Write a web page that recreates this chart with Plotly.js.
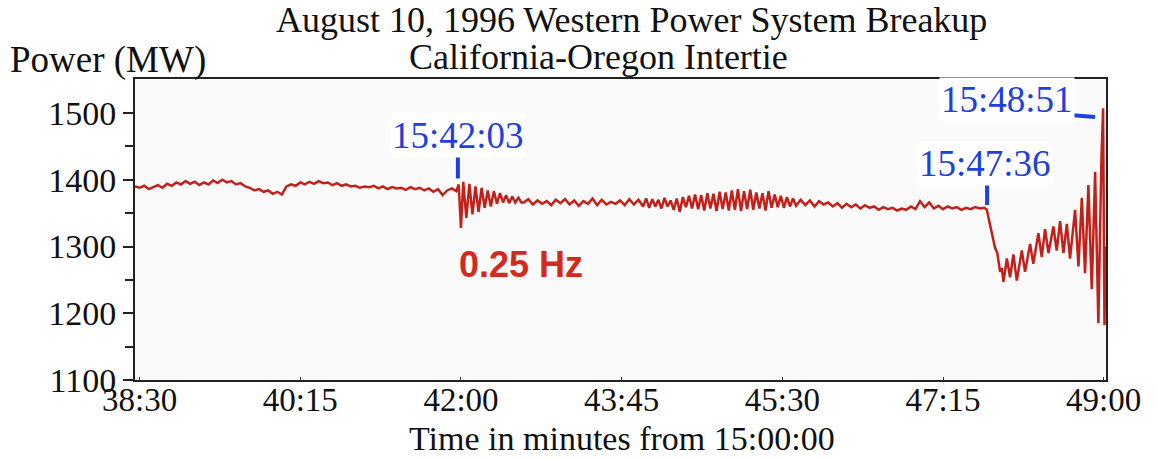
<!DOCTYPE html>
<html>
<head>
<meta charset="utf-8">
<script src="https://cdn.plot.ly/plotly-3.0.1.min.js"></script>
<style>html,body{margin:0;padding:0;background:#fff;}#chart{width:1157px;height:459px;}</style>
</head>
<body>
<div id="chart"></div>
<script>
// Time in seconds from 15:00:00
var timeSec = [
2307,2310,2313,2316,2319,2322,2325,2328,2331,2334,2337,2340,2343,2346,2349,2352,2355,2358,2361,2364,
2367,2370,2373,2376,2379,2382,2385,2388,2391,2394,2397,2400,2403,2406,2409,2412,2415,2418,2421,2424,
2427,2430,2433,2436,2439,2442,2445,2448,2451,2454,2457,2460,2463,2466,2469,2472,2475,2478,2481,2484,
2487,2490,2493,2496,2499,2502,2505,2508,2511,2514,2517,
2518.5,2520,2521.5,2523.5,2525.5,2527.5,2529.5,2531.5,2533.5,2535.5,2537.5,2539.5,2541.5,2543.5,2545.5,
2547.5,2549.5,2551.5,2553.5,2555.5,2557.5,2559.5,
2561,2564,2567,2570,2573,2576,2579,2582,2585,2588,2591,2594,2597,2600,2603,2606,2609,2612,2615,2618,
2621,2624,2627,2630,2633,2636,2639,
2641,2643,2645,2647,2649,2651,2653,2655,2657,2659,2661,2663,2665,2667,2669,2671,2673,2675,2677,2679,
2681,2683,2685,2687,2689,2691,2693,2695,2697,2699,2701,2703,2705,2707,2709,2711,2713,2715,2717,2719,
2721,2723,2725,2727,2729,2731,2733,2735,2737,2739,
2742,2745,2748,2751,2754,2757,2760,2763,2766,2769,2772,2775,2778,2781,2784,2787,2790,2793,2796,2799,
2802,2805,2808,2811,2814,2817,2820,2823,2826,2829,2832,2835,2838,2841,2844,2847,2850,2853,2856,2859,2862,
2863.6,2865,2866.9,2868,2869,2870.5,2872.3,2873.4,2874.5,2876.7,2878.8,2881,2883.2,2886.5,2888.6,2891.9,
2894,2897.3,2899.5,2901.7,2903.9,2907.1,2909.3,2911.5,2913.7,2915.9,2918,2921.3,2923.5,2925.7,2927.8,
2930,2932.2,2934.4,2936.5,2938.5,2939.6,2940.5,2941.2
];
// Power flow (MW)
var powerMW = [
1390,1388,1391,1386,1389,1392,1388,1394,1391,1396,1393,1398,1394,1397,1392,1396,1393,1399,1395,1400,
1396,1398,1393,1395,1390,1388,1384,1386,1382,1384,1379,1382,1378,1390,1393,1391,1396,1393,1397,1394,
1398,1395,1396,1392,1395,1391,1393,1390,1391,1388,1390,1389,1391,1387,1390,1386,1389,1387,1388,1385,
1389,1386,1388,1384,1387,1382,1386,1377,1384,1387,1383,
1393,1328,1397,1343,1394,1348,1390,1352,1388,1358,1384,1360,1383,1364,1380,
1366,1377,1365,1375,1366,1373,1366,
1366,1371,1363,1369,1364,1368,1362,1370,1365,1371,1363,1369,1361,1368,1364,1372,1362,1370,1363,1367,
1364,1369,1362,1371,1363,1370,1360,
1372,1358,1371,1360,1370,1357,1373,1360,1369,1355,1372,1352,1374,1359,1376,1357,1378,1356,1377,1354,
1380,1357,1379,1353,1382,1356,1381,1354,1384,1355,1386,1353,1383,1356,1385,1355,1381,1357,1380,1354,
1383,1358,1378,1359,1376,1358,1374,1360,1372,1361,
1370,1362,1369,1360,1368,1363,1366,1360,1365,1358,1364,1359,1363,1357,1362,1358,1360,1355,1359,1356,
1358,1354,1357,1355,1360,1356,1368,1359,1366,1357,1361,1356,1360,1357,1359,1355,1358,1356,1359,1357,1358,
1355,1340,1322,1310,1298,1290,1262,1268,1247,1282,1254,1288,1249,1294,1262,1304,
1274,1320,1284,1326,1290,1330,1294,1338,1290,1334,1282,1355,1270,1373,1260,
1392,1236,1412,1185,1430,1507,1182,1300
];
var tickSec = [2310,2415,2520,2625,2730,2835,2940];
var tickText = ["38:30","40:15","42:00","43:45","45:30","47:15","49:00"];
var yTicks = [1100,1200,1300,1400,1500];
var yMinorTicks = [1150,1250,1350,1450];

var serif = 'Liberation Serif, Times New Roman, serif';
var blue = '#1e40dc';

var trace = {
  x: timeSec, y: powerMW, type: 'scatter', mode: 'lines',
  line: {color: '#c2211b', width: 2.5}, hoverinfo: 'skip'
};

var L = 135, R = 51, T = 79, B = 79, W = 1157, H = 459;
function px(x){ return (x - L) / (W - L - R); }
function py(y){ return (H - B - y) / (H - T - B); }

var layout = {
  width: W, height: H,
  margin: {l: L, r: R, t: T, b: B, pad: 0},
  paper_bgcolor: '#ffffff', plot_bgcolor: '#fafafa',
  showlegend: false,
  xaxis: {
    range: [2307, 2941.5], tickmode: 'array', tickvals: tickSec, ticktext: tickText,
    ticks: 'inside', ticklen: 3, tickcolor: '#333',
    ticklabelstandoff: -11,
    showline: true, mirror: true, linecolor: '#222', linewidth: 2,
    showgrid: false, zeroline: false,
    tickfont: {family: serif, size: 33, color: '#111'}
  },
  yaxis: {
    range: [1100, 1551], tickmode: 'array', tickvals: yTicks,
    ticks: 'outside', ticklen: 10, tickwidth: 2, tickcolor: '#222',
    minor: {tickvals: yMinorTicks, ticks: 'outside', ticklen: 8, tickwidth: 2, tickcolor: '#222'},
    showline: true, mirror: true, linecolor: '#222', linewidth: 2,
    showgrid: false, zeroline: false,
    tickfont: {family: serif, size: 34, color: '#111'}
  },
  annotations: [
    {xref: 'paper', yref: 'paper', x: px(631), y: py(20), text: 'August 10, 1996 Western Power System Breakup',
     showarrow: false, xanchor: 'center', yanchor: 'middle', borderpad: 0, font: {family: serif, size: 36, color: '#111'}},
    {xref: 'paper', yref: 'paper', x: px(598), y: py(57), text: 'California-Oregon Intertie',
     showarrow: false, xanchor: 'center', yanchor: 'middle', borderpad: 0, font: {family: serif, size: 36, color: '#111'}},
    {xref: 'paper', yref: 'paper', x: px(8), y: py(60), text: 'Power (MW)',
     showarrow: false, xanchor: 'left', yanchor: 'middle', font: {family: serif, size: 37, color: '#111'}},
    {xref: 'paper', yref: 'paper', x: px(622), y: py(458), text: 'Time in minutes from 15:00:00',
     showarrow: false, xanchor: 'center', yanchor: 'bottom', borderpad: 0, font: {family: serif, size: 34, color: '#111'}},
    {xref: 'paper', yref: 'paper', x: px(458), y: py(135), text: '15:42:03', bgcolor: '#ffffff',
     showarrow: false, xanchor: 'center', yanchor: 'middle', font: {family: serif, size: 37, color: blue}},
    {xref: 'paper', yref: 'paper', x: px(985), y: py(163), text: '15:47:36', bgcolor: '#ffffff',
     showarrow: false, xanchor: 'center', yanchor: 'middle', font: {family: serif, size: 37, color: blue}},
    {xref: 'paper', yref: 'paper', x: px(1007), y: py(99), text: '15:48:51', bgcolor: '#ffffff',
     showarrow: false, xanchor: 'center', yanchor: 'middle', font: {family: serif, size: 37, color: blue}},
    {xref: 'paper', yref: 'paper', x: px(521), y: py(264), text: '<b>0.25 Hz</b>',
     showarrow: false, xanchor: 'center', yanchor: 'middle', font: {family: 'Liberation Sans, Arial, sans-serif', size: 36, color: '#d42a1c'}}
  ],
  shapes: [
    {type: 'line', xref: 'x', yref: 'y', x0: 2518, x1: 2518, y0: 1444, y1: 1402, line: {color: blue, width: 4}},
    {type: 'line', xref: 'x', yref: 'y', x0: 2863.8, x1: 2863.8, y0: 1404, y1: 1362, line: {color: blue, width: 4}},
    {type: 'line', xref: 'x', yref: 'y', x0: 2901, x1: 2934.4, y0: 1500, y1: 1494, line: {color: blue, width: 4}}
  ]
};

Plotly.newPlot('chart', [trace], layout, {displayModeBar: false, staticPlot: true});
</script>
</body>
</html>
